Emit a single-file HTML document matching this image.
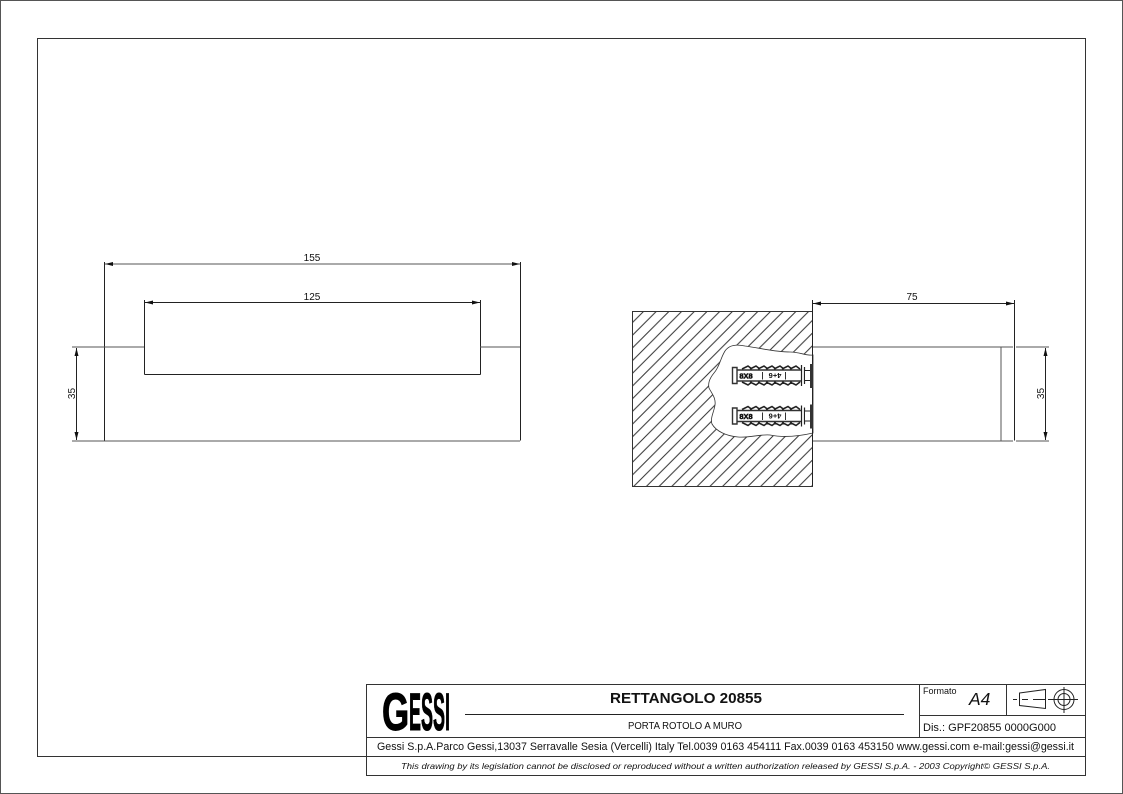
<!DOCTYPE html>
<html><head><meta charset="utf-8"><style>
html,body{margin:0;padding:0;background:#fff}
svg{display:block}
text{font-family:"Liberation Sans",sans-serif;fill:#111}
.l{stroke:#222;stroke-width:1;fill:none}
.g{stroke:#555;stroke-width:1;fill:none}
.t{stroke:#333;stroke-width:1;fill:none}
</style></head><body>
<svg width="1123" height="794" viewBox="0 0 1123 794" xmlns="http://www.w3.org/2000/svg">
<defs>
<pattern id="h" width="12.7" height="12.7" patternUnits="userSpaceOnUse" patternTransform="translate(631.3 311)">
<path d="M-2 14.7L14.7 -2M-2 2L2 -2M10.7 14.7L14.7 10.7" stroke="#333" stroke-width="1" fill="none"/>
</pattern>
<marker id="a" viewBox="0 0 8 4" refX="8" refY="2" markerWidth="8" markerHeight="4" orient="auto-start-reverse" markerUnits="userSpaceOnUse"><path d="M0 0L8 2L0 4z" fill="#111"/></marker>
</defs>
<rect width="1123" height="794" fill="#fff"/>
<rect x="0.5" y="0.5" width="1122" height="793" class="g"/>
<path d="M366 756.5H37.5V38.5H1085.5V684" class="t"/>

<!-- left view -->
<path d="M104.5 262V440.5M520.5 262V440.5M144.5 300V374.5M480.5 300V374.5M144.5 374.5H480.5" class="l"/>
<path d="M72 347H144M480 347H520M72 441H520" class="g"/>
<path d="M105 264H520" class="g" marker-start="url(#a)" marker-end="url(#a)"/>
<path d="M145 302.5H480" class="l" marker-start="url(#a)" marker-end="url(#a)"/>
<path d="M76.5 348V440" class="l" marker-start="url(#a)" marker-end="url(#a)"/>
<text x="312" y="261" font-size="10" text-anchor="middle">155</text>
<text x="312" y="300" font-size="10" text-anchor="middle">125</text>
<text transform="translate(75 393.5) rotate(-90)" font-size="10" text-anchor="middle">35</text>

<!-- right view -->
<rect x="632.5" y="311.5" width="180" height="175" fill="url(#h)" stroke="#333"/>
<path d="M813 355C806 356 800 352 790 352C775 352 760 348 745 346C736 344 729 345 725 351C720 359 720 366 714 373C709 379 708 384 709 388C712 394 716 398 715 405C714 412 710 418 712 424C716 431 726 436 738 437C750 438 760 434 770 435C785 438 800 436 813 433Z" fill="#fff" stroke="#333" stroke-width="0.8"/>
<path d="M812.5 300V486" class="l"/>
<path d="M813 347H1013M813 441H1013M1001 347V441M1016 347H1049M1016 441H1049" class="g"/>
<path d="M1014.5 300V440.5" class="l"/>
<path d="M813 303.5H1014" class="l" marker-start="url(#a)" marker-end="url(#a)"/>
<path d="M1045.5 348V440" class="l" marker-start="url(#a)" marker-end="url(#a)"/>
<text x="912" y="300" font-size="10" text-anchor="middle">75</text>
<text transform="translate(1044 393.5) rotate(-90)" font-size="10" text-anchor="middle">35</text>

<!-- anchors -->
<g>
<path d="M732.5 367.5H737V383.5H732.5ZM737 370H801M737 381H801" stroke="#333" stroke-width="1.4" fill="#fff"/>
<path d="M742 369L748 366L752 369M750 369L756 366L760 369M758 369L764 366L768 369M766 369L772 366L776 369M774 369L780 366L784 369M782 369L788 366L792 369M790 369L796 366L800 369M742 382L748 385L752 382M750 382L756 385L760 382M758 382L764 385L768 382M766 382L772 385L776 382M774 382L780 385L784 382M782 382L788 385L792 382M790 382L796 385L800 382" stroke="#222" stroke-width="1.6" fill="none"/>
<path d="M801.5 365V386M804.5 367V384" stroke="#222" stroke-width="1.2" fill="none"/>
<rect x="804.5" y="370.5" width="6" height="10" fill="#fff" stroke="#222"/>
<path d="M811.5 364V388" stroke="#333" stroke-width="3" fill="none"/>
<text x="746" y="378.5" font-size="7.5" font-weight="700" text-anchor="middle" stroke="#111" stroke-width="0.5">8X8</text>
<text transform="translate(775 373) rotate(180)" font-size="7.5" font-weight="700" text-anchor="middle">4+6</text>
<path d="M762.5 372V379.5M785.5 372V379.5" stroke="#333" fill="none"/>
</g>
<g transform="translate(0 40.5)">
<path d="M732.5 367.5H737V383.5H732.5ZM737 370H801M737 381H801" stroke="#333" stroke-width="1.4" fill="#fff"/>
<path d="M742 369L748 366L752 369M750 369L756 366L760 369M758 369L764 366L768 369M766 369L772 366L776 369M774 369L780 366L784 369M782 369L788 366L792 369M790 369L796 366L800 369M742 382L748 385L752 382M750 382L756 385L760 382M758 382L764 385L768 382M766 382L772 385L776 382M774 382L780 385L784 382M782 382L788 385L792 382M790 382L796 385L800 382" stroke="#222" stroke-width="1.6" fill="none"/>
<path d="M801.5 365V386M804.5 367V384" stroke="#222" stroke-width="1.2" fill="none"/>
<rect x="804.5" y="370.5" width="6" height="10" fill="#fff" stroke="#222"/>
<path d="M811.5 364V388" stroke="#333" stroke-width="3" fill="none"/>
<text x="746" y="378.5" font-size="7.5" font-weight="700" text-anchor="middle" stroke="#111" stroke-width="0.5">8X8</text>
<text transform="translate(775 373) rotate(180)" font-size="7.5" font-weight="700" text-anchor="middle">4+6</text>
<path d="M762.5 372V379.5M785.5 372V379.5" stroke="#333" fill="none"/>
</g>

<!-- title block -->
<rect x="366.5" y="684.5" width="719" height="91" fill="#fff" class="t"/>
<path d="M366 737.5H1085M366 756.5H1085M919.5 684V737M1006.5 684V715M919 715.5H1085" class="t"/>
<path d="M465 714.5H904" class="l"/>
<text transform="translate(382 730) scale(0.66 1)" font-size="53" font-weight="700" stroke="#000" stroke-width="1" style="fill:#000">G</text>
<text transform="translate(409 730) scale(0.34 1)" font-size="53" font-weight="700" stroke="#000" stroke-width="1" style="fill:#000">ESSI</text>
<text x="686" y="703" font-size="15" font-weight="700" text-anchor="middle" textLength="152" lengthAdjust="spacingAndGlyphs">RETTANGOLO 20855</text>
<text x="685" y="729" font-size="10" text-anchor="middle" textLength="114" lengthAdjust="spacingAndGlyphs">PORTA ROTOLO A MURO</text>
<text x="923" y="694" font-size="9">Formato</text>
<text x="969" y="705" font-size="17.5" font-style="italic">A4</text>
<text x="923" y="731" font-size="11" textLength="133" lengthAdjust="spacingAndGlyphs">Dis.: GPF20855 0000G000</text>
<text x="377" y="750" font-size="10.6" textLength="697" lengthAdjust="spacingAndGlyphs">Gessi S.p.A.Parco Gessi,13037 Serravalle Sesia (Vercelli) Italy Tel.0039 0163 454111 Fax.0039 0163 453150 www.gessi.com e-mail:gessi@gessi.it</text>
<text x="401" y="769" font-size="8.6" font-style="italic" textLength="649" lengthAdjust="spacingAndGlyphs">This drawing by its legislation cannot be disclosed or reproduced without a written authorization released by GESSI S.p.A. - 2003 Copyright© GESSI S.p.A.</text>

<!-- projection symbol -->
<path d="M1019.5 693L1045.5 689.5V708.5L1019.5 705.5Z" stroke="#222" fill="none"/>
<path d="M1013 699.5H1017M1022 699.5H1028M1033 699.5H1045M1048 699.5H1052" stroke="#222" fill="none"/>
<circle cx="1064" cy="699.5" r="10" class="l"/>
<circle cx="1064" cy="699.5" r="6" class="l"/>
<path d="M1052 699.5H1078M1064 687V713" class="l"/>
</svg>
</body></html>
